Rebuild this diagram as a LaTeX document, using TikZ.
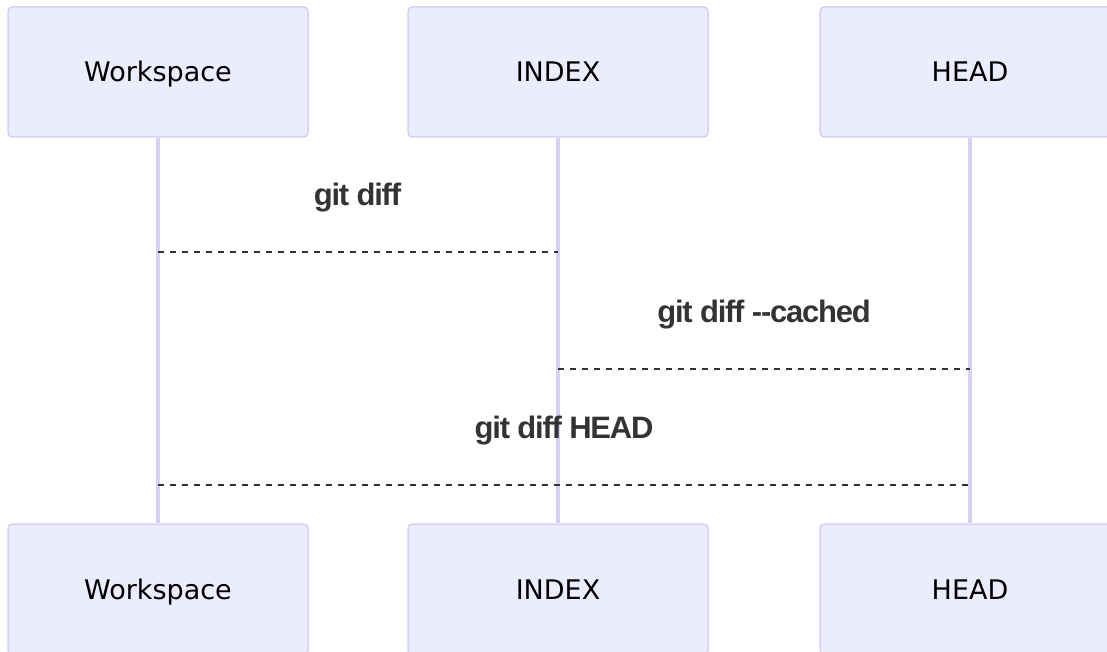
\documentclass[tikz,border=0pt]{standalone}
\usepackage{fontspec}
\setmainfont{DejaVu Sans}
\newfontfamily\lblfont[LetterSpace=-4]{Liberation Sans}
\definecolor{actorfill}{HTML}{ECECFF}
\definecolor{actorline}{HTML}{D9CFF2}
\definecolor{msgcol}{HTML}{333333}
\begin{document}
\begin{tikzpicture}[x=1pt,y=-1pt,
  actor/.style={draw=actorline, line width=1.5pt, fill=actorfill, rounded corners=4pt,
    minimum width=300pt, minimum height=130pt, inner sep=0pt,
    text height=20pt, text depth=0pt, font=\fontsize{27}{32}\selectfont, text=black},
  life/.style={draw=actorline, line width=4pt},
  msg/.style={draw=msgcol, line width=2pt, dash pattern=on 6pt off 6pt},
  msglbl/.style={font=\lblfont\bfseries\fontsize{31}{36}\selectfont, text=msgcol, inner sep=0pt, anchor=base}]
\useasboundingbox (0,0) rectangle (1107,652);
% top actors
\node[actor] (w1) at (158,72) {Workspace};
\node[actor] (i1) at (558,72) {INDEX};
\node[actor] (h1) at (970,72) {HEAD};
% bottom actors
\node[actor] (w2) at (158,589) {Workspace};
\node[actor] (i2) at (558,589) {INDEX};
\node[actor] (h2) at (970,589) {HEAD};
% lifelines
\draw[life] (w1.south) -- (w2.north);
\draw[life] (i1.south) -- (i2.north);
\draw[life] (h1.south) -- (h2.north);
% message end points
\coordinate (m1a) at (w1.south |- 0,252);
\coordinate (m1b) at (i1.south |- 0,252);
\coordinate (m2a) at (i1.south |- 0,369);
\coordinate (m2b) at (h1.south |- 0,369);
\coordinate (m3a) at (w1.south |- 0,485);
\coordinate (m3b) at (h1.south |- 0,485);
% messages
\draw[msg] (m1a) -- (m1b);
\draw[msg] (m2a) -- (m2b);
\draw[msg] (m3a) -- (m3b);
% labels
\node[msglbl] (l1) at (357.5,206) {git diff};
\node[msglbl] (l2) at (764,322) {git diff --cached};
\node[msglbl] (l3) at (564,438) {git diff HEAD};
\end{tikzpicture}
\end{document}
